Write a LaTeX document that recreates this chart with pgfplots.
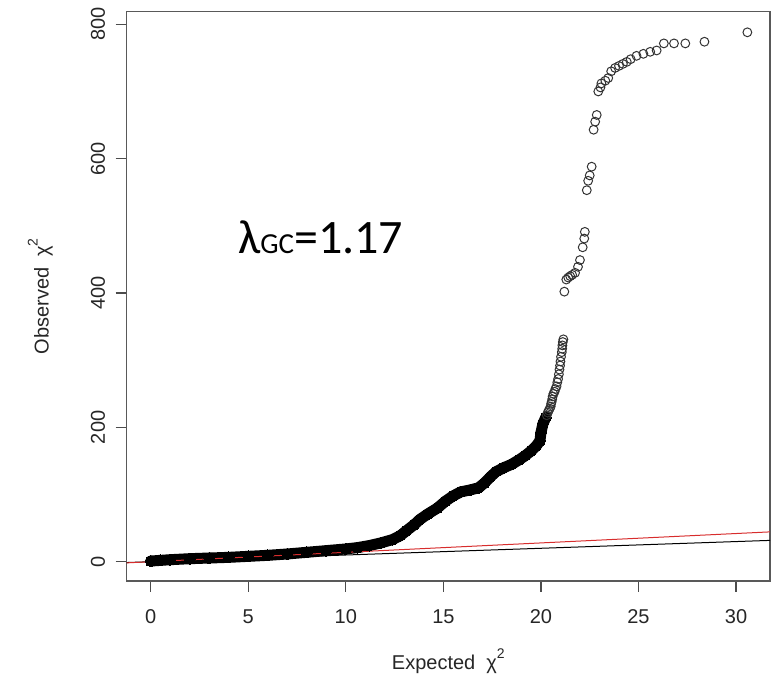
\documentclass[border=0pt]{standalone}
\usepackage{pgfplots}
\pgfplotsset{compat=1.18}
\usepackage{fontspec}
\setmainfont{Liberation Sans}
\newfontfamily\carlito{Carlito}

% Dense part of the QQ curve (expected vs observed chi^2), band centre
\pgfplotstableread{
x y
0.00 1
0.5 2
1.0 3
2.0 4.5
3.0 5.5
4.0 6.5
5.0 8
6.0 9.5
7.0 11.5
8.0 14
9.0 16.5
10.0 19
10.6 21
11.2 24
11.8 28
12.4 33
12.8 39
13.1 46
13.5 55
13.8 63
14.2 71
14.7 80
15.1 90
15.5 98
15.9 104
16.4 107
16.8 110
17.1 117
17.4 126
17.7 134
18.1 140
18.5 145
18.9 152
19.2 158
19.5 165
19.75 172
19.95 180
20.0 192
20.1 205
20.25 215
}\dense

% Upper tail: individual SNPs
\pgfplotstableread{
x y
20.3 218
20.35 222
20.4 225
20.45 228
20.5 231
20.52 235
20.55 238
20.58 242
20.6 246
20.64 250
20.7 253
20.74 257
20.8 261
20.84 267
20.88 272
20.92 279
20.95 286
20.98 292
21.0 298
21.03 305
21.07 312
21.09 317
21.1 322
21.12 327
21.15 331
21.2 402
21.3 420
21.4 423
21.5 425
21.6 427
21.75 430
21.9 439
22.0 449
22.14 468
22.22 481
22.25 491
22.35 553
22.42 567
22.5 575
22.6 588
22.7 643
22.78 655
22.86 665
22.94 700
23.05 706
23.1 712
23.3 716
23.45 720
23.6 730
23.8 735
24.0 738
24.2 741
24.4 744
24.6 748
24.9 753
25.25 756
25.6 759
25.93 761
26.3 771.5
26.82 771.5
27.4 771.5
28.38 774
30.58 788
}\tail

\begin{document}
\begin{tikzpicture}
\begin{axis}[
  name=ax,
  scale only axis,
  width=643.3pt, height=569.3pt,
  xmin=-1.23, xmax=31.74,
  ymin=-28.7, ymax=818.7,
  xtick={0,5,...,30},
  ytick={0,200,...,800},
  tick pos=left,
  tick align=outside,
  major tick length=11pt,
  tick style={black!70, line width=1.2pt},
  axis line style={black!65, line width=1.3pt},
  /pgf/number format/assume math mode=true,
  /pgf/number format/1000 sep={},
  ticklabel style={font=\fontsize{20}{24}\selectfont, text=black!85},
  yticklabel style={rotate=90, anchor=south},
  xticklabel style={anchor=north},
  xticklabel shift=14pt,
  yticklabel shift=7pt,
]
% dense band of overlapping points
\addplot[black, line width=11pt, line cap=round, line join=round,
  mark=*, mark size=5.5pt, mark options={fill=black, draw=black, line width=0pt}]
  table {\dense};
% sparse upper tail
\addplot[only marks, mark=o, mark size=4.4pt,
  mark options={draw=black!80, line width=1pt}]
  table {\tail};
% reference lines
\addplot[black, line width=1pt] coordinates {(-1.23,-1.23) (31.74,31.74)};
\addplot[color={rgb,255:red,215;green,45;blue,45}, line width=1pt]
  coordinates {(-1.23,-1.72) (31.74,44.4)};
\end{axis}

\node[anchor=base, font=\fontsize{20}{24}\selectfont, text=black!85]
  at ([yshift=-89pt]ax.south)
  {Expected\ \ χ\raisebox{0.55em}{\fontsize{14}{14}\selectfont 2}};
\node[anchor=base, rotate=90, font=\fontsize{20}{24}\selectfont, text=black!85]
  at ([xshift=-78pt]ax.west)
  {Observed\ \ χ\raisebox{0.55em}{\fontsize{14}{14}\selectfont 2}};
\node[anchor=base west, inner sep=0pt]
  at ([xshift=111.3pt,yshift=327.7pt]ax.south west)
  {\carlito\fontsize{48}{50}\selectfont λ{\fontsize{29}{30}\selectfont GC}=1.17};

\pgfresetboundingbox
\path[use as bounding box] ([xshift=-126.7pt,yshift=-93pt]ax.south west)
  rectangle ([xshift=7pt,yshift=11.7pt]ax.north east);
\end{tikzpicture}
\end{document}
